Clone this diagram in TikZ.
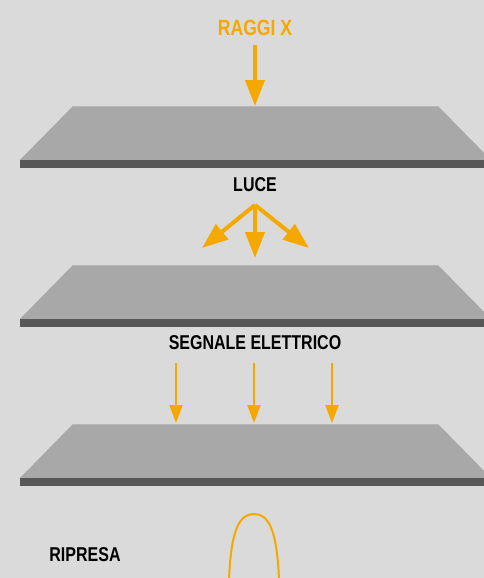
\documentclass[tikz,border=0pt]{standalone}
\usepackage{fontspec}
\setmainfont{Liberation Sans}[FakeStretch=0.8]
\usepackage{tikz}
\usetikzlibrary{arrows.meta}
\definecolor{bg}{HTML}{DADADA}
\definecolor{platetop}{HTML}{A8A8A8}
\definecolor{plateedge}{HTML}{B6B6B6}
\definecolor{plateside}{HTML}{575757}
\definecolor{xorange}{HTML}{F5A800}
\tikzset{
  ray/.style={draw=xorange,line width=4pt,-{Triangle[length=26pt,width=19pt]}},
  sig/.style={draw=xorange,line width=2.2pt,shorten <=0pt,-{Triangle[length=18pt,width=13pt]}},
  lbl/.style={inner sep=0pt,font=\bfseries\fontsize{20}{20}\selectfont}
}

\begin{document}
\begin{tikzpicture}[x=1pt,y=-1pt]
    \fill[bg] (0,0) rectangle (484,578);
    \clip (0,0) rectangle (484,578);
    % plates
    \fill[platetop] (73,106) -- (438,106) -- (491,160) -- (20,160) -- cycle;
    \draw[plateedge,line width=1pt] (73,106.5) -- (438,106.5);
    \fill[plateside] (20,160) rectangle (491,168);
    \fill[platetop] (73,265) -- (438,265) -- (491,319) -- (20,319) -- cycle;
    \draw[plateedge,line width=1pt] (73,265.5) -- (438,265.5);
    \fill[plateside] (20,319) rectangle (491,327);
    \fill[platetop] (73,424) -- (438,424) -- (491,478) -- (20,478) -- cycle;
    \draw[plateedge,line width=1pt] (73,424.5) -- (438,424.5);
    \fill[plateside] (20,478) rectangle (491,486);
    % labels
    \node[lbl,text=xorange,font=\bfseries\fontsize{22}{22}\selectfont] (raggi) at (255,28) {RAGGI X};
    \node[lbl] (luce) at (255,185) {LUCE};
    \node[lbl] (segnale) at (255,343) {SEGNALE ELETTRICO};
    \node[lbl] (ripresa) at (85,555) {RIPRESA};
    % x rays
    \coordinate (xhit) at (255,106);
    \draw[ray,shorten <=9pt] (raggi.south) -- (xhit);
    % light
    \coordinate (lsrc) at (255,205);
    \coordinate (lleft) at (202,248);
    \coordinate (ldown) at (255,258);
    \coordinate (lright) at (309,248);
    \draw[ray] (lsrc) -- (lleft);
    \draw[ray] (lsrc) -- (ldown);
    \draw[ray] (lsrc) -- (lright);
    % signal
    \coordinate (sa) at (176,363);
    \coordinate (sb) at (254,363);
    \coordinate (sc) at (332,363);
    \coordinate (ta) at (176,423);
    \coordinate (tb) at (254,423);
    \coordinate (tc) at (332,423);
    \draw[sig] (sa) -- (ta);
    \draw[sig] (sb) -- (tb);
    \draw[sig] (sc) -- (tc);
    % peak
    \draw[xorange,line width=2pt] (229,580) .. controls (231,528) and (240,514) .. (254,514) .. controls (268,514) and (277,528) .. (279,580);
\end{tikzpicture}
\end{document}
